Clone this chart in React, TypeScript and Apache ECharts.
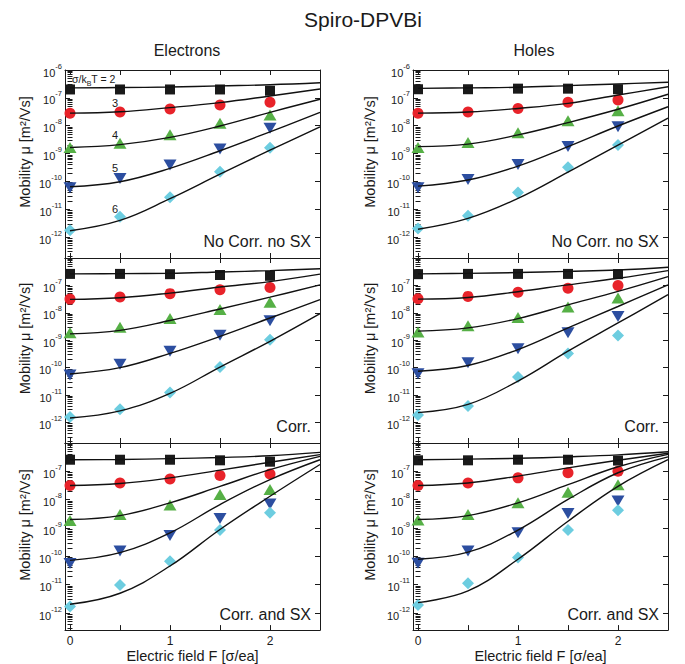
import React, { useEffect, useRef } from "react";
import * as echarts from "echarts";

// field values (units of sigma/ea)
const fieldSim = [0, 0.5, 1, 1.5, 2];
const fieldFit = [0, 0.5, 1, 1.5, 2, 2.5];
const fieldTicks = [0, 0.5, 1, 1.5, 2];
const fieldLabels = [0, 1, 2];
const sigmaLabels = ["2", "3", "4", "5", "6"];
const decades = [1e-12, 1e-11, 1e-10, 1e-9, 1e-8, 1e-7, 1e-6];

// Electrons - No Corr. no SX (rows: sigma/kT = 2..6)
const elecPlainSim = [
  [2.0e-7, 2.0e-7, 2.0e-7, 2.0e-7, 1.8e-7],
  [2.8e-8, 3.1e-8, 4.0e-8, 5.5e-8, 6.9e-8],
  [1.66e-9, 2.34e-9, 4.7e-9, 1.23e-8, 2.4e-8],
  [5.9e-11, 1.26e-10, 3.9e-10, 1.45e-9, 8.1e-9],
  [1.78e-12, 5.4e-12, 2.7e-11, 2.24e-10, 1.62e-9],
];
const elecPlainFit = [
  [2.29e-7, 2.34e-7, 2.45e-7, 2.69e-7, 2.95e-7, 3.47e-7],
  [2.82e-8, 3.16e-8, 4.47e-8, 6.76e-8, 1.17e-7, 2.09e-7],
  [1.66e-9, 2.09e-9, 3.8e-9, 9.77e-9, 3.02e-8, 8.91e-8],
  [6.46e-11, 9.77e-11, 2.95e-10, 1.26e-9, 6.03e-9, 3.02e-8],
  [1.7e-12, 3.98e-12, 2.4e-11, 1.82e-10, 1.32e-9, 9.12e-9],
];

// Holes - No Corr. no SX
const holePlainSim = [
  [2.04e-7, 2.04e-7, 2.14e-7, 2.14e-7, 2.04e-7],
  [2.82e-8, 3.09e-8, 4.17e-8, 6.92e-8, 8.32e-8],
  [1.66e-9, 2.51e-9, 5.62e-9, 1.51e-8, 3.47e-8],
  [5.89e-11, 1.17e-10, 4.07e-10, 1.78e-9, 9.12e-9],
  [2.04e-12, 5.89e-12, 3.98e-11, 3.24e-10, 2.04e-9],
];
const holePlainFit = [
  [2.19e-7, 2.29e-7, 2.4e-7, 2.75e-7, 3.16e-7, 3.63e-7],
  [2.82e-8, 3.09e-8, 4.17e-8, 6.31e-8, 1.26e-7, 2.51e-7],
  [1.78e-9, 2.19e-9, 4.68e-9, 1.29e-8, 3.89e-8, 1.35e-7],
  [6.76e-11, 1.12e-10, 3.55e-10, 1.78e-9, 9.77e-9, 4.79e-8],
  [1.91e-12, 4.68e-12, 2.45e-11, 2.14e-10, 2.0e-9, 1.86e-8],
];

// Electrons - Corr.
const elecCorrSim = [
  [2.63e-7, 2.63e-7, 2.57e-7, 2.4e-7, 2.24e-7],
  [3.16e-8, 3.8e-8, 5.01e-8, 6.92e-8, 8.32e-8],
  [1.86e-9, 2.95e-9, 6.17e-9, 1.32e-8, 2.45e-8],
  [5.37e-11, 1.32e-10, 3.98e-10, 1.51e-9, 5.13e-9],
  [1.58e-12, 3.02e-12, 1.23e-11, 1.05e-10, 1.05e-9],
];
const elecCorrFit = [
  [2.63e-7, 2.69e-7, 2.75e-7, 3.09e-7, 3.47e-7, 4.07e-7],
  [3.09e-8, 3.55e-8, 5.25e-8, 8.71e-8, 1.38e-7, 2.57e-7],
  [1.7e-9, 2.29e-9, 5.25e-9, 1.38e-8, 3.72e-8, 1.05e-7],
  [5.89e-11, 1.0e-10, 3.31e-10, 1.38e-9, 6.46e-9, 3.02e-8],
  [1.45e-12, 2.63e-12, 1.15e-11, 1.05e-10, 9.12e-10, 9.33e-9],
];

// Holes - Corr.
const holeCorrSim = [
  [2.57e-7, 2.63e-7, 2.63e-7, 2.63e-7, 2.57e-7],
  [3.24e-8, 3.98e-8, 5.62e-8, 7.94e-8, 1.0e-7],
  [2.0e-9, 3.39e-9, 6.76e-9, 1.62e-8, 3.47e-8],
  [6.03e-11, 1.51e-10, 4.9e-10, 1.86e-9, 7.41e-9],
  [1.86e-12, 3.98e-12, 4.57e-11, 3.31e-10, 1.48e-9],
];
const holeCorrFit = [
  [2.63e-7, 2.75e-7, 2.95e-7, 3.24e-7, 3.63e-7, 4.57e-7],
  [3.16e-8, 3.63e-8, 5.89e-8, 1.05e-7, 1.82e-7, 3.47e-7],
  [2.14e-9, 2.82e-9, 6.17e-9, 1.95e-8, 6.03e-8, 2.09e-7],
  [7.41e-11, 1.2e-10, 4.57e-10, 2.82e-9, 1.7e-8, 1.05e-7],
  [2.29e-12, 4.57e-12, 3.24e-11, 3.98e-10, 4.27e-9, 4.57e-8],
];

// Electrons - Corr. and SX
const elecCorrSxSim = [
  [2.57e-7, 2.57e-7, 2.57e-7, 2.45e-7, 2.19e-7],
  [3.16e-8, 3.89e-8, 5.37e-8, 7.08e-8, 8.13e-8],
  [1.86e-9, 3.02e-9, 6.46e-9, 1.51e-8, 2.29e-8],
  [5.62e-11, 1.55e-10, 5.5e-10, 2.19e-9, 7.08e-9],
  [1.7e-12, 9.77e-12, 6.76e-11, 8.51e-10, 3.47e-9],
];
const elecCorrSxFit = [
  [2.57e-7, 2.63e-7, 2.82e-7, 3.09e-7, 3.55e-7, 4.68e-7],
  [3.16e-8, 3.72e-8, 5.89e-8, 1.1e-7, 2.09e-7, 3.89e-7],
  [2.0e-9, 2.75e-9, 7.76e-9, 2.95e-8, 1.15e-7, 3.39e-7],
  [7.24e-11, 1.35e-10, 6.76e-10, 6.76e-9, 5.13e-8, 2.57e-7],
  [2.04e-12, 5.01e-12, 4.57e-11, 8.91e-10, 1.32e-8, 1.74e-7],
];

// Holes - Corr. and SX
const holeCorrSxSim = [
  [2.45e-7, 2.45e-7, 2.57e-7, 2.57e-7, 2.4e-7],
  [3.16e-8, 3.89e-8, 5.89e-8, 8.91e-8, 1.0e-7],
  [1.91e-9, 3.02e-9, 7.76e-9, 1.82e-8, 3.39e-8],
  [5.75e-11, 1.55e-10, 6.76e-10, 3.24e-9, 8.91e-9],
  [1.91e-12, 1.12e-11, 9.12e-11, 8.51e-10, 4.27e-9],
];
const holeCorrSxFit = [
  [2.57e-7, 2.69e-7, 2.88e-7, 3.24e-7, 3.8e-7, 4.9e-7],
  [3.16e-8, 3.89e-8, 6.76e-8, 1.32e-7, 2.45e-7, 4.37e-7],
  [2.0e-9, 2.75e-9, 7.76e-9, 3.39e-8, 1.45e-7, 3.98e-7],
  [7.94e-11, 1.41e-10, 8.51e-10, 1.02e-8, 8.91e-8, 3.24e-7],
  [2.34e-12, 6.03e-12, 7.94e-11, 1.74e-9, 2.95e-8, 2.57e-7],
];

const panels = [
  { sim: elecPlainSim, fit: elecPlainFit, tag: "No Corr. no SX", row: 0, col: 0 },
  { sim: holePlainSim, fit: holePlainFit, tag: "No Corr. no SX", row: 0, col: 1 },
  { sim: elecCorrSim, fit: elecCorrFit, tag: "Corr.", row: 1, col: 0 },
  { sim: holeCorrSim, fit: holeCorrFit, tag: "Corr.", row: 1, col: 1 },
  { sim: elecCorrSxSim, fit: elecCorrSxFit, tag: "Corr. and SX", row: 2, col: 0 },
  { sim: holeCorrSxSim, fit: holeCorrSxFit, tag: "Corr. and SX", row: 2, col: 1 },
];

// layout
const FONT = '"Liberation Sans", Arial, Helvetica, sans-serif';
const colLeft = [65, 413];
const panelWidth = 255;
const rowTop = [70, 258, 443];
const rowHeight = [188, 185, 188];
const rowMin = [1.78e-13, 1.78e-13, 2.51e-13];

const markers = [
  { symbol: "rect", size: 10, color: "#1a1a1a", rotate: 0 },
  { symbol: "circle", size: 11, color: "#e8232a", rotate: 0 },
  { symbol: "triangle", size: [13, 11], color: "#56b046", rotate: 0 },
  { symbol: "triangle", size: [13, 11], color: "#2c4ea0", rotate: 180 },
  { symbol: "diamond", size: [12, 12], color: "#6dcde0", rotate: 0 },
];

const minorTicks: number[] = [];
for (let n = -13; n <= -7; n++) {
  for (let k = 2; k <= 9; k++) minorTicks.push(Number((k * Math.pow(10, n)).toPrecision(3)));
}

const decadeLabel = (v: number) => `{b|10}{s|${Math.round(Math.log10(v))}}`;

const App: React.FC = () => {
  const chartRef = useRef<HTMLDivElement>(null);

  useEffect(() => {
    if (!chartRef.current) return;
    document.body.style.margin = "0";
    const chart = echarts.init(chartRef.current, undefined, { renderer: "svg" });

    const grid: any[] = [];
    const xAxis: any[] = [];
    const yAxis: any[] = [];
    const series: any[] = [];
    const graphic: any[] = [];
    const frame = { show: true, onZero: false, lineStyle: { color: "#1a1a1a", width: 1 } };

    panels.forEach((p, i) => {
      const left = colLeft[p.col];
      const top = rowTop[p.row];
      const height = rowHeight[p.row];
      grid.push({ left, top, width: panelWidth, height });

      const xBase = {
        type: "value",
        gridIndex: i,
        min: -0.05,
        max: 2.5,
        axisLine: frame,
        splitLine: { show: false },
        axisTick: { inside: true, length: 5, customValues: fieldTicks, lineStyle: { color: "#1a1a1a" } },
      };
      const bottomRow = p.row === 2;
      xAxis.push({
        ...xBase,
        position: "bottom",
        axisLabel: bottomRow
          ? { customValues: fieldLabels, fontSize: 12, color: "#1a1a1a", margin: 5, fontFamily: FONT }
          : { show: false },
        name: bottomRow ? "Electric field F [σ/ea]" : "",
        nameLocation: "middle",
        nameGap: 17,
        nameTextStyle: { fontSize: 14.5, color: "#1a1a1a", fontFamily: FONT },
      });
      xAxis.push({ ...xBase, position: "top", axisLabel: { show: false } });

      const yBase = {
        type: "log",
        logBase: 10,
        gridIndex: i,
        min: rowMin[p.row],
        max: 1e-6,
        splitLine: { show: false },
        minorTick: { show: false },
      };
      const labelValues = p.row === 0 ? decades : decades.slice(0, 6);
      const majorTick = { inside: true, length: 5, customValues: decades, lineStyle: { color: "#1a1a1a" } };
      const minorTick = { inside: true, length: 2.5, customValues: minorTicks.filter((v) => v > rowMin[p.row]), lineStyle: { color: "#1a1a1a" } };
      yAxis.push({
        ...yBase,
        position: "left",
        axisLine: frame,
        axisTick: majorTick,
        axisLabel: {
          customValues: labelValues,
          formatter: decadeLabel,
          margin: 3,
          color: "#1a1a1a",
          rich: {
            b: { fontSize: 11, fontFamily: FONT, color: "#1a1a1a", lineHeight: 16, verticalAlign: "bottom" },
            s: { fontSize: 7.5, fontFamily: FONT, color: "#1a1a1a", lineHeight: 9, verticalAlign: "top" },
          },
        },
      });
      yAxis.push({ ...yBase, position: "left", axisLine: { show: false }, axisTick: minorTick, axisLabel: { show: false } });
      yAxis.push({ ...yBase, position: "right", axisLine: frame, axisTick: majorTick, axisLabel: { show: false } });
      yAxis.push({ ...yBase, position: "right", axisLine: { show: false }, axisTick: minorTick, axisLabel: { show: false } });

      p.sim.forEach((vals, s) => {
        const m = markers[s];
        series.push({
          type: "scatter",
          name: `σ=${sigmaLabels[s]}`,
          xAxisIndex: 2 * i,
          yAxisIndex: 4 * i,
          symbol: m.symbol,
          symbolSize: m.size,
          symbolRotate: m.rotate,
          itemStyle: { color: m.color, opacity: 1 },
          z: 2,
          data: vals.map((v, k) => [fieldSim[k], v]),
        });
      });
      p.fit.forEach((vals, s) => {
        series.push({
          type: "line",
          name: `fit σ=${sigmaLabels[s]}`,
          xAxisIndex: 2 * i,
          yAxisIndex: 4 * i,
          showSymbol: false,
          symbol: "none",
          smooth: 0.4,
          lineStyle: { color: "#111111", width: 1.4 },
          z: 3,
          data: vals.map((v, k) => [fieldFit[k], v]),
        });
      });

      graphic.push({
        type: "text",
        x: left + panelWidth - 9,
        y: top + height - 16.5,
        style: { text: p.tag, fontSize: 16, fontFamily: FONT, fill: "#1a1a1a", textAlign: "right", textVerticalAlign: "middle" },
      });
      graphic.push({
        type: "text",
        x: p.col === 0 ? 25 : 370,
        y: top + height / 2 - 12,
        rotation: Math.PI / 2,
        style: {
          text: "Mobility μ [m²/Vs]",
          fontSize: 14.5,
          fontFamily: FONT,
          fill: "#1a1a1a",
          textAlign: "center",
          textVerticalAlign: "middle",
        },
      });
    });

    graphic.push({
      type: "text",
      x: 363,
      y: 19,
      style: { text: "Spiro-DPVBi", fontSize: 21, fontFamily: FONT, fill: "#1a1a1a", textAlign: "center", textVerticalAlign: "middle" },
    });
    graphic.push({
      type: "text",
      x: 187,
      y: 50,
      style: { text: "Electrons", fontSize: 16, fontFamily: FONT, fill: "#1a1a1a", textAlign: "center", textVerticalAlign: "middle" },
    });
    graphic.push({
      type: "text",
      x: 534,
      y: 50,
      style: { text: "Holes", fontSize: 16, fontFamily: FONT, fill: "#1a1a1a", textAlign: "center", textVerticalAlign: "middle" },
    });
    // sigma/kT annotations in the first panel
    graphic.push({
      type: "text",
      x: 72,
      y: 80,
      style: {
        text: "{n|σ/k}{u|B}{n|T = 2}",
        textAlign: "left",
        textVerticalAlign: "middle",
        rich: {
          n: { fontSize: 10.5, fontFamily: FONT, fill: "#1a1a1a", lineHeight: 13, verticalAlign: "top" },
          u: { fontSize: 7, fontFamily: FONT, fill: "#1a1a1a", lineHeight: 7, verticalAlign: "bottom" },
        },
      },
    });
    const annotY = [103, 135, 168, 209];
    sigmaLabels.slice(1).forEach((s, k) => {
      graphic.push({
        type: "text",
        x: 115,
        y: annotY[k],
        style: { text: s, fontSize: 11, fontFamily: FONT, fill: "#1a1a1a", textAlign: "center", textVerticalAlign: "middle" },
      });
    });

    chart.setOption({
      animation: false,
      backgroundColor: "#ffffff",
      textStyle: { fontFamily: FONT },
      grid,
      xAxis,
      yAxis,
      series,
      graphic,
    });

    return () => {
      chart.dispose();
    };
  }, []);

  return <div ref={chartRef} style={{ width: "685px", height: "664px" }} />;
};

export default App;
